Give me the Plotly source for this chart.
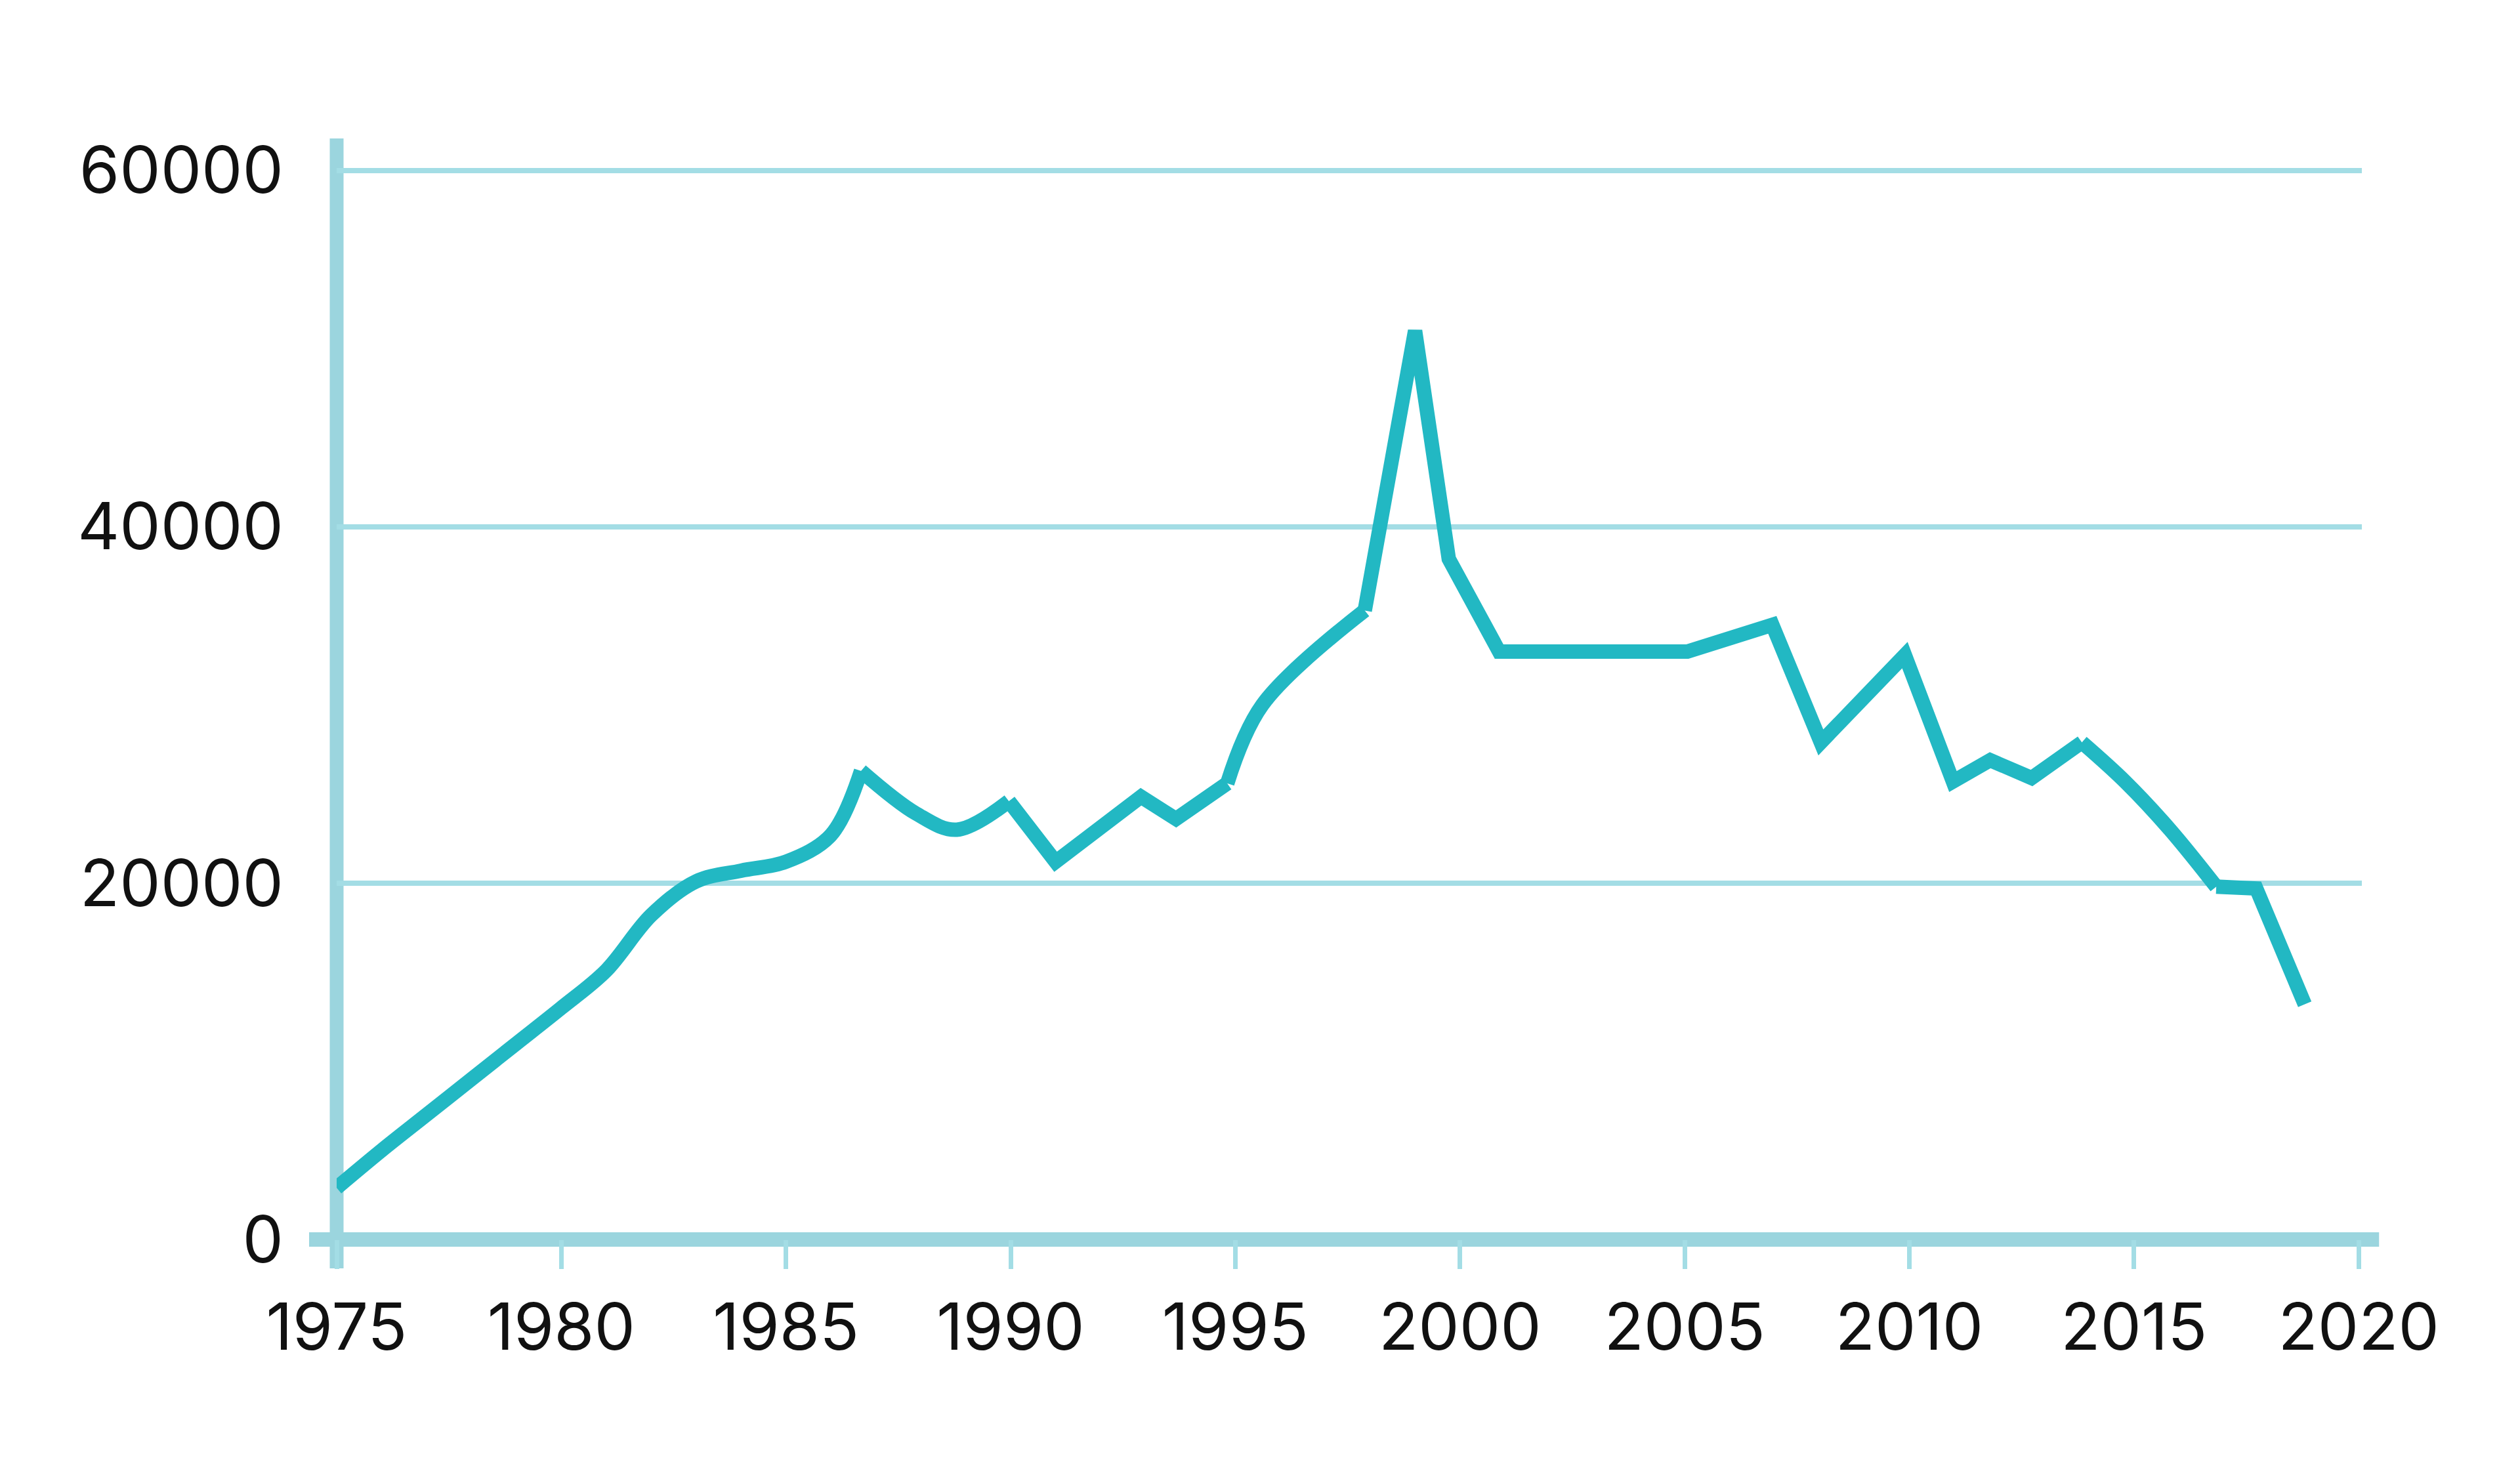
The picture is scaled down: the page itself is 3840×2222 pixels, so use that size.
import plotly.graph_objects as go

# ---- data ----
years = [1975, 1976, 1977, 1978, 1979, 1980, 1981, 1982, 1983, 1984, 1985, 1986,
         1986.67, 1987.9, 1988.8, 1989.96, 1991.0, 1992.9, 1993.68, 1994.82,
         1995.6, 1997.88, 1999.0, 1999.75, 2000.87, 2005.06, 2006.95, 2008.03,
         2009.9, 2010.97, 2011.8, 2012.72, 2013.84, 2014.8, 2015.8, 2016.83,
         2017.72, 2018.8]
values = [2900, 5000, 7000, 9000, 11000, 13000, 15100, 18200, 20100, 20700, 21200, 22700,
          26300, 23900, 23000, 24600, 21200, 24850, 23600, 25600,
          30000, 35300, 51000, 38200, 33000, 33000, 34500, 27900,
          32800, 25700, 26900, 25900, 27900, 25700, 23000, 19800,
          19700, 13200]

x_ticks = [1975, 1980, 1985, 1990, 1995, 2000, 2005, 2010, 2015, 2020]
x_tick_labels = [str(v) for v in x_ticks]
y_ticks = [0, 20000, 40000, 60000]
y_tick_labels = ["0", "20000", "40000", "60000"]

# ---- styling ----
LINE = "#22b8c3"
AXIS = "#9bd5de"
GRID = "#a3dde5"
FONT = "Inter, Roboto, sans-serif"

# segments: (start index, end index, shape)
segments = [(0, 12, "spline"), (12, 15, "spline"), (15, 19, "linear"),
            (19, 21, "spline"), (21, 32, "linear"), (32, 35, "spline"),
            (35, 37, "linear")]

fig = go.Figure()
for a, b, shape in segments:
    fig.add_trace(go.Scatter(
        x=years[a:b + 1], y=values[a:b + 1], mode="lines",
        line=dict(color=LINE, width=22, shape=shape),
        showlegend=False, hoverinfo="skip"))

W, H = 3840, 2222
PW, PH = 3086, 1670
left, top = 505, 211
right = W - left - PW
bottom = H - top - PH

fig.update_layout(
    width=W, height=H,
    margin=dict(l=left, r=right, t=top, b=bottom, pad=0),
    paper_bgcolor="white", plot_bgcolor="white",
    font=dict(family=FONT, size=99, color="#111111"),
    xaxis=dict(range=[1975, 2020.07], tickvals=x_ticks, ticktext=x_tick_labels,
               showgrid=False, zeroline=False, showline=False,
               ticks="outside", ticklen=44, tickwidth=7, tickcolor=GRID,
               ticklabelstandoff=4),
    yaxis=dict(range=[0, 61500], tickvals=y_ticks, ticktext=y_tick_labels,
               showgrid=True, gridcolor=GRID, gridwidth=8,
               zeroline=False, showline=False, ticks="",
               ticklabelstandoff=80),
    shapes=[
        dict(type="line", xref="paper", yref="paper",
             x0=0, x1=0, y0=-44 / PH, y1=1.0 + 8 / PH,
             line=dict(color=AXIS, width=21), layer="below"),
        dict(type="line", xref="paper", yref="paper",
             x0=-42 / PW, x1=1.0085, y0=0, y1=0,
             line=dict(color=AXIS, width=22), layer="below"),
    ],
)

fig.write_html("out.html")
